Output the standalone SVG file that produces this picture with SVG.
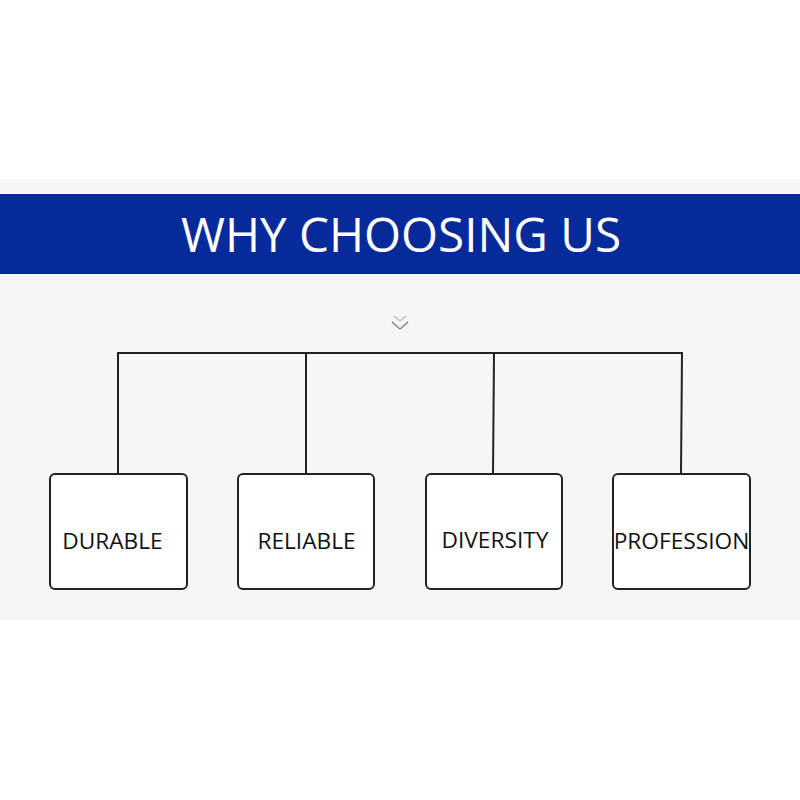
<svg xmlns="http://www.w3.org/2000/svg" width="800" height="800" viewBox="0 0 800 800">
<style>
.box{fill:#fff;stroke:#222;stroke-width:2}
.lbl{font-family:"Open Sans","Noto Sans",sans-serif;font-size:22.7px;fill:#111;text-anchor:middle}
.con{fill:none;stroke:#222;stroke-width:2}
</style>
<rect x="0" y="0" width="800" height="800" fill="#fff"/>
<rect x="0" y="179" width="800" height="441" fill="#f6f6f6"/>
<rect x="0" y="194" width="800" height="80" fill="#062a9a"/>
<text x="401" y="252" font-family="'Open Sans','Noto Sans',sans-serif" font-size="47.6" fill="#fff" text-anchor="middle">WHY CHOOSING US</text>
<g id="chevron" fill="none" stroke-width="1.3">
<polyline points="394,316 400,321 406,316" stroke="#bbb"/>
<polyline points="392,322 400,329 408,322" stroke="#777"/>
</g>
<g id="connectors">
<polyline class="con" points="118,474 118,353 682,353 681,474"/>
<line class="con" x1="306" y1="353" x2="306" y2="474"/>
<line class="con" x1="494" y1="353" x2="493" y2="474"/>
</g>
<g id="n1"><rect class="box" x="50" y="474" width="137" height="115" rx="5"/><text class="lbl" x="112.5" y="549">DURABLE</text></g>
<g id="n2"><rect class="box" x="238" y="474" width="136" height="115" rx="5"/><text class="lbl" x="306.5" y="549">RELIABLE</text></g>
<g id="n3"><rect class="box" x="426" y="474" width="136" height="115" rx="5"/><text class="lbl" x="495" y="548">DIVERSITY</text></g>
<g id="n4"><rect class="box" x="613" y="474" width="137" height="115" rx="5"/><text class="lbl" x="681.5" y="549">PROFESSION</text></g>
</svg>
